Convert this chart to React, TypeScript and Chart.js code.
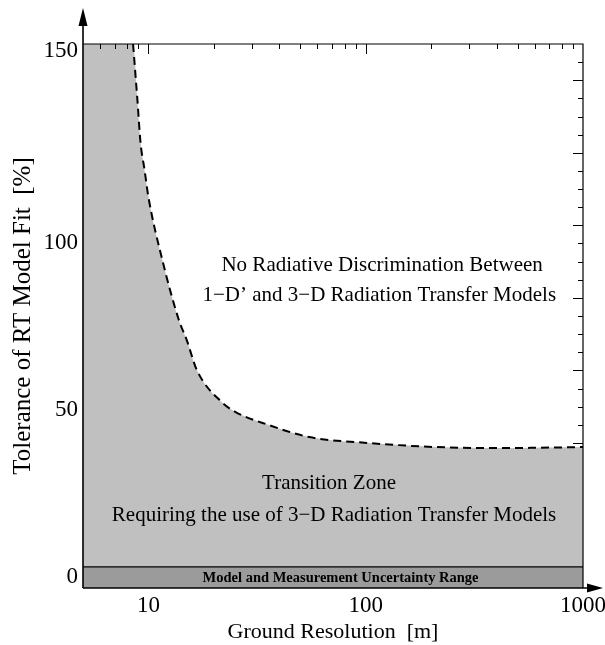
import { useEffect, useRef } from "react";
import { Chart, registerables } from "chart.js";

Chart.register(...registerables);

// Boundary between the transition zone and the "no discrimination" zone
const resolutionM = [8.5, 8.9, 9.2, 9.6, 10, 11.5, 13.8, 15, 16.7, 21.7, 25.2, 35.8, 55, 104, 212, 427, 1000];
const tolerancePct = [159.6, 142.8, 130, 121.9, 113.8, 95.8, 77, 71, 62, 52.4, 49.4, 45.5, 41.9, 40.1, 38.9, 38.6, 38.9];

const X_MIN = 5;
const X_MAX = 1000;
const Y_MIN = -3.3;
const Y_MAX = 159.6;
const uncertaintyTop = 3;

const xTickValues = [10, 100, 1000];
const xTickLabels = ["10", "100", "1000"];
const yTickValues = [0, 50, 100, 157.5];
const yTickLabels = ["0", "50", "100", "150"];

const topMajorTicks = [10, 100];
const topMinorTicks = [6, 7, 8, 9, 20, 30, 40, 50, 60, 70, 80, 90, 200, 300, 400, 500, 600, 700, 800, 900];
const rightScaleMax = 150;
const rightMinorStep = 5;
const rightMajorStep = 20;

const notes = [
  { text: "No Radiative Discrimination Between", x: 119, y: 93.4, bold: false, size: 21 },
  { text: "1\u2212D\u2019 and 3\u2212D Radiation Transfer Models", x: 115.5, y: 84.4, bold: false, size: 21 },
  { text: "Transition Zone", x: 67.8, y: 28.1, bold: false, size: 21 },
  { text: "Requiring the use of 3\u2212D Radiation Transfer Models", x: 71.5, y: 18.4, bold: false, size: 21 },
  { text: "Model and Measurement Uncertainty Range", x: 76.6, y: -0.3, bold: true, size: 14.5 },
];

const SERIF = "'Liberation Serif', 'Times New Roman', serif";

export default function App() {
  const ref = useRef<HTMLCanvasElement>(null);

  useEffect(() => {
    const canvas = ref.current;
    if (!canvas) return;

    const ticksBehind = {
      id: "ticksBehind",
      beforeDatasetsDraw(chart: any) {
        const { ctx, chartArea } = chart;
        const y2 = chart.scales.y2;
        ctx.save();
        ctx.strokeStyle = "#000";
        ctx.lineWidth = 1;
        for (let v = rightMinorStep; v < rightScaleMax; v += rightMinorStep) {
          const py = Math.round(y2.getPixelForValue(v)) + 0.5;
          const len = v % rightMajorStep === 0 ? 10 : 5;
          ctx.beginPath();
          ctx.moveTo(chartArea.right, py);
          ctx.lineTo(chartArea.right - len, py);
          ctx.stroke();
        }
        ctx.restore();
      },
    };

    const framePlugin = {
      id: "frame",
      afterDatasetsDraw(chart: any) {
        const { ctx, chartArea } = chart;
        const { left, right, top, bottom } = chartArea;
        const xs = chart.scales.x;
        const ys = chart.scales.y;
        ctx.save();
        ctx.strokeStyle = "#000";
        ctx.fillStyle = "#000";
        // top ticks
        ctx.lineWidth = 1;
        const drawTop = (v: number, len: number) => {
          const px = Math.round(xs.getPixelForValue(v)) + 0.5;
          ctx.beginPath();
          ctx.moveTo(px, top);
          ctx.lineTo(px, top + len);
          ctx.stroke();
        };
        topMinorTicks.forEach((v) => drawTop(v, 5));
        topMajorTicks.forEach((v) => drawTop(v, 10));
        // top and right border
        ctx.lineWidth = 1.2;
        ctx.beginPath();
        ctx.moveTo(left, top);
        ctx.lineTo(right, top);
        ctx.lineTo(right, bottom);
        ctx.stroke();
        // axes with arrows
        ctx.lineWidth = 1.6;
        ctx.beginPath();
        ctx.moveTo(left, bottom);
        ctx.lineTo(left, top - 19);
        ctx.moveTo(left, bottom);
        ctx.lineTo(right + 5, bottom);
        ctx.stroke();
        ctx.beginPath();
        ctx.moveTo(left, top - 36);
        ctx.lineTo(left - 4.5, top - 18);
        ctx.lineTo(left + 4.5, top - 18);
        ctx.closePath();
        ctx.fill();
        ctx.beginPath();
        ctx.moveTo(right + 20, bottom);
        ctx.lineTo(right + 4, bottom - 4.5);
        ctx.lineTo(right + 4, bottom + 4.5);
        ctx.closePath();
        ctx.fill();
        // annotations
        ctx.textAlign = "center";
        ctx.textBaseline = "middle";
        notes.forEach((n) => {
          ctx.font = `${n.bold ? "bold " : ""}${n.size}px ${SERIF}`;
          ctx.fillText(n.text, xs.getPixelForValue(n.x), ys.getPixelForValue(n.y));
        });
        ctx.restore();
      },
    };

    const boundary = resolutionM.map((x, i) => ({ x, y: tolerancePct[i] }));

    const chart = new Chart(canvas, {
      type: "line",
      data: {
        datasets: [
          {
            label: "boundary",
            data: boundary,
            borderColor: "#000",
            borderWidth: 2,
            borderDash: [8, 5],
            pointRadius: 0,
            fill: false,
            cubicInterpolationMode: "monotone",
            yAxisID: "y",
          },
          {
            label: "uncertainty",
            data: [
              { x: X_MIN, y: uncertaintyTop },
              { x: X_MAX, y: uncertaintyTop },
            ],
            borderColor: "#000",
            borderWidth: 1.2,
            backgroundColor: "#9b9b9b",
            fill: "start",
            pointRadius: 0,
            yAxisID: "y",
          },
          {
            label: "transition",
            data: [{ x: X_MIN, y: Y_MAX }, ...boundary],
            borderWidth: 0,
            borderColor: "rgba(0,0,0,0)",
            backgroundColor: "#c0c0c0",
            fill: { value: uncertaintyTop },
            pointRadius: 0,
            cubicInterpolationMode: "monotone",
            yAxisID: "y",
          },
        ],
      } as any,
      options: {
        animation: false,
        responsive: true,
        maintainAspectRatio: false,
        layout: { padding: { top: 44, right: 22, left: 0, bottom: 0 } },
        plugins: { legend: { display: false }, tooltip: { enabled: false } },
        scales: {
          x: {
            type: "logarithmic",
            min: X_MIN,
            max: X_MAX,
            position: "bottom",
            grid: { display: false, drawTicks: false },
            border: { display: false },
            afterBuildTicks: (s: any) => {
              s.ticks = xTickValues.map((v) => ({ value: v }));
            },
            afterFit: (s: any) => {
              s.height = 57;
              s.paddingLeft = 0;
              s.paddingRight = 0;
            },
            ticks: {
              autoSkip: false,
              maxRotation: 0,
              padding: 4,
              color: "#000",
              font: { family: SERIF, size: 23 },
              callback: (_v: any, i: number) => xTickLabels[i],
            },
            title: {
              display: true,
              text: "Ground Resolution  [m]",
              color: "#000",
              font: { family: SERIF, size: 22 },
              padding: 0,
            },
          },
          y: {
            type: "linear",
            min: Y_MIN,
            max: Y_MAX,
            position: "left",
            grid: { display: false, drawTicks: false },
            border: { display: false },
            afterBuildTicks: (s: any) => {
              s.ticks = yTickValues.map((v) => ({ value: v }));
            },
            afterFit: (s: any) => {
              s.width = 83;
            },
            ticks: {
              autoSkip: false,
              padding: 5,
              color: "#000",
              font: { family: SERIF, size: 23 },
              callback: (_v: any, i: number) => yTickLabels[i],
            },
            title: {
              display: true,
              text: "Tolerance of RT Model Fit  [%]",
              color: "#000",
              font: { family: SERIF, size: 25 },
              padding: { top: 8, bottom: 0 },
            },
          },
          y2: {
            type: "linear",
            min: 0,
            max: rightScaleMax,
            position: "right",
            display: false,
          },
        },
      } as any,
      plugins: [ticksBehind, framePlugin],
    });

    return () => chart.destroy();
  }, []);

  return (
    <div style={{ position: "absolute", left: 0, top: 0, width: 605, height: 645 }}>
      <canvas ref={ref} />
    </div>
  );
}
